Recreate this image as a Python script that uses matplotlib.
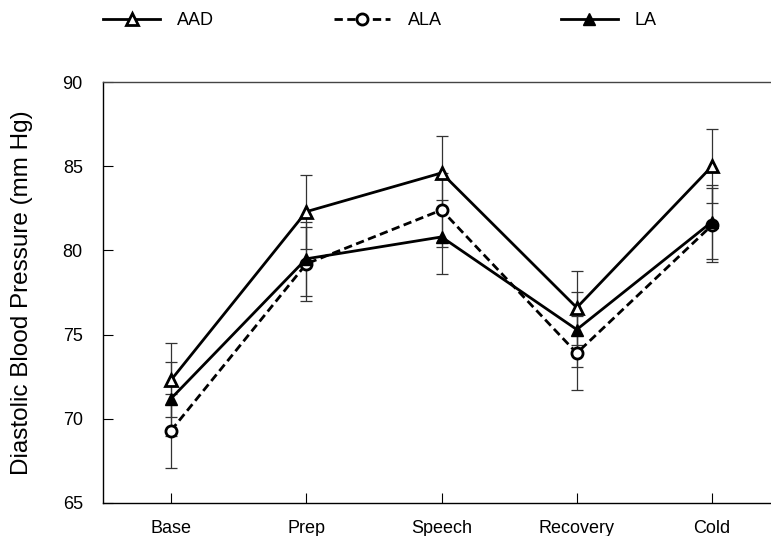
import matplotlib.pyplot as plt
import numpy as np

plt.rcParams['font.family'] = ['Liberation Sans', 'DejaVu Sans']

# Conditions and mean diastolic BP per group
phases = ["Base", "Prep", "Speech", "Recovery", "Cold"]
aad = [72.3, 82.3, 84.6, 76.6, 85.0]
ala = [69.3, 79.2, 82.4, 73.9, 81.5]
la = [71.2, 79.5, 80.8, 75.3, 81.7]
# standard errors
aad_se = [2.2, 2.2, 2.2, 2.2, 2.2]
ala_se = [2.2, 2.2, 2.2, 2.2, 2.2]
la_se = [2.2, 2.2, 2.2, 2.2, 2.2]

fig = plt.figure(figsize=(7.71, 5.36), dpi=100)
ax = fig.add_axes([0.1336, 0.0616, 0.8664, 0.7854])

x = np.arange(len(phases))

# error bars first, thin
for vals, se in [(aad, aad_se), (ala, ala_se), (la, la_se)]:
    ax.errorbar(x, vals, yerr=se, fmt="none", ecolor="#333333",
                elinewidth=0.9, capsize=4.5, capthick=0.9, zorder=1)

ax.plot(x, aad, color="black", lw=2, marker="^", ms=8, mfc="white",
        mec="black", mew=2, label="AAD", zorder=3)
ax.plot(x, ala, color="black", lw=2, ls=(0, (3, 1.6)), marker="o", ms=8,
        mfc="white", mec="black", mew=2, label="ALA", zorder=3)
ax.plot(x, la, color="black", lw=2, marker="^", ms=8, mfc="black",
        mec="black", label="LA", zorder=3)

ax.set_xlim(-0.503, 4.436)
ax.set_ylim(65, 90)
ax.set_yticks([65, 70, 75, 80, 85, 90])
ax.set_xticks(x)
ax.set_xticklabels(phases)
ax.tick_params(axis="both", direction="in", length=7, width=0.8,
               labelsize=13, colors="black")
ax.tick_params(axis="x", pad=12)
ax.tick_params(axis="y", pad=14.5)
ax.spines["right"].set_visible(False)
for s in ["left", "top", "bottom"]:
    ax.spines[s].set_linewidth(1.0)
ax.spines["top"].set_color("#444444")

ax.set_ylabel("Diastolic Blood Pressure (mm Hg)", fontsize=17.5)
ax.yaxis.set_label_coords(-0.105, 0.5)

fig.legend(loc="center left", bbox_to_anchor=(0.113, 0.962), ncol=3,
           frameon=False, fontsize=13, handlelength=3.15, columnspacing=6.6,
           handletextpad=0.95)

fig.savefig("out.png", dpi=100)
